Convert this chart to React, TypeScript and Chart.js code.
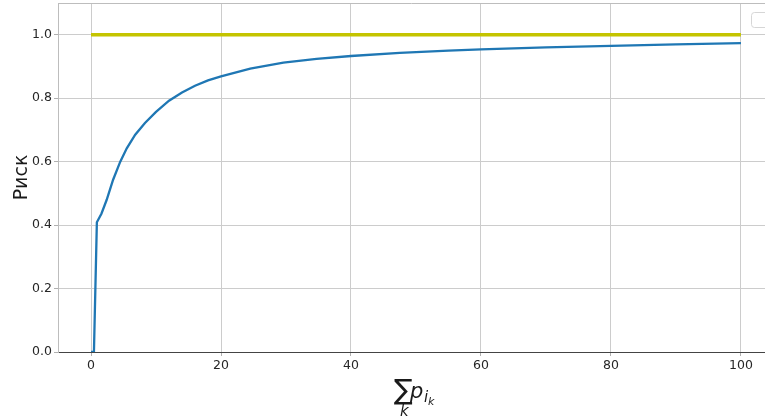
import React, { useEffect, useRef } from 'react';
import { Chart, registerables } from 'chart.js';

Chart.register(...registerables);

// Risk curve (x = sum of p, y = risk)
const riskX = [0, 0.45, 0.9, 1.6, 2.4, 3.4, 4.5, 5.5, 6.8, 8.3, 10, 12, 14, 16, 18, 20, 24.5, 29.6, 34.7, 40, 47.5, 55, 60, 70, 80, 90, 100];
const riskY = [0, 0, 0.409, 0.436, 0.479, 0.543, 0.6, 0.642, 0.685, 0.722, 0.757, 0.792, 0.818, 0.839, 0.856, 0.869, 0.893, 0.912, 0.924, 0.933, 0.943, 0.95, 0.954, 0.96, 0.965, 0.9695, 0.9735];
// Reference level
const levelX = [0, 100];
const levelY = [1, 1];

const xTicks = [0, 20, 40, 60, 80, 100];
const yTicks = [0, 0.2, 0.4, 0.6, 0.8, 1.0];
const yTitle = 'Риск';

const W = 765;
const H = 418;

const decor = {
  id: 'decor',
  afterDraw(chart: any) {
    const { ctx, chartArea: a } = chart;
    ctx.save();
    // top spine
    ctx.strokeStyle = '#bdbdbd';
    ctx.lineWidth = 1;
    ctx.beginPath();
    ctx.moveTo(a.left, a.top + 0.5);
    ctx.lineTo(a.right, a.top + 0.5);
    ctx.stroke();
    // empty legend box
    ctx.beginPath();
    (ctx as any).roundRect(a.right - 13.5, a.top + 9.5, 26, 15, 3);
    ctx.fillStyle = 'rgba(255,255,255,0.8)';
    ctx.fill();
    ctx.strokeStyle = '#d6d6d6';
    ctx.stroke();
    // y title
    ctx.fillStyle = '#1a1a1a';
    ctx.save();
    ctx.translate(27, (a.top + a.bottom) / 2);
    ctx.rotate(-Math.PI / 2);
    ctx.font = '19px "DejaVu Sans"';
    ctx.textAlign = 'center';
    ctx.textBaseline = 'alphabetic';
    ctx.fillText(yTitle, 0, 0);
    ctx.restore();
    // x title: sum_k p_{i_k}
    ctx.textAlign = 'left';
    ctx.textBaseline = 'alphabetic';
    ctx.font = '28px "DejaVu Sans"';
    ctx.fillText('∑', 394, 399);
    ctx.font = 'oblique 15px "DejaVu Sans"';
    ctx.fillText('k', 400, 416);
    ctx.font = 'oblique 21px "DejaVu Sans"';
    ctx.fillText('p', 410, 398);
    ctx.font = 'oblique 15px "DejaVu Sans"';
    ctx.fillText('i', 424, 402);
    ctx.font = 'oblique 11px "DejaVu Sans"';
    ctx.fillText('k', 428, 405);
    ctx.restore();
  },
};

export default function App() {
  const ref = useRef<HTMLCanvasElement>(null);
  useEffect(() => {
    const canvas = ref.current;
    if (!canvas) return;
    const tickFont = { family: '"DejaVu Sans"', size: 12.5 };
    const chart = new Chart(canvas, {
      type: 'line',
      data: {
        datasets: [
          {
            label: 'level',
            data: levelX.map((x, i) => ({ x, y: levelY[i] })),
            borderColor: '#c4c400',
            borderWidth: 3.5,
            pointRadius: 0,
            fill: false,
          },
          {
            label: 'risk',
            data: riskX.map((x, i) => ({ x, y: riskY[i] })),
            borderColor: '#1f77b4',
            borderWidth: 2.3,
            pointRadius: 0,
            fill: false,
            tension: 0,
          },
        ],
      },
      options: {
        responsive: false,
        animation: false,
        layout: { padding: { top: 3, right: 0, left: 0, bottom: 0 } },
        plugins: { legend: { display: false }, tooltip: { enabled: false } },
        scales: {
          x: {
            type: 'linear',
            min: -5.08,
            max: 103.7,
            afterBuildTicks: (s: any) => {
              s.ticks = xTicks.map((v) => ({ value: v }));
            },
            afterFit: (s: any) => {
              s.height = 66;
              s.paddingLeft = 0;
              s.paddingRight = 0;
            },
            ticks: {
              font: tickFont,
              color: '#262626',
              padding: 2,
              maxRotation: 0,
              callback: (v: any) => String(v),
            },
            grid: { color: '#cccccc', lineWidth: 1, tickLength: 4, tickColor: '#b0b0b0' },
            border: { color: '#444444', width: 1 },
          },
          y: {
            type: 'linear',
            min: 0,
            max: 1.1,
            afterBuildTicks: (s: any) => {
              s.ticks = yTicks.map((v) => ({ value: v }));
            },
            afterFit: (s: any) => {
              s.width = 58;
              s.paddingTop = 0;
              s.paddingBottom = 0;
            },
            ticks: {
              font: tickFont,
              color: '#262626',
              padding: 2,
              callback: (v: any) => Number(v).toFixed(1),
            },
            grid: { color: '#cccccc', lineWidth: 1, tickLength: 4, tickColor: '#b0b0b0' },
            border: { color: '#bdbdbd', width: 1 },
          },
        },
      },
      plugins: [decor],
    });
    return () => chart.destroy();
  }, []);
  return (
    <div style={{ position: 'fixed', left: 0, top: 0, width: W, height: H, background: '#fff' }}>
      <canvas ref={ref} width={W} height={H} style={{ width: W, height: H, display: 'block' }} />
    </div>
  );
}
